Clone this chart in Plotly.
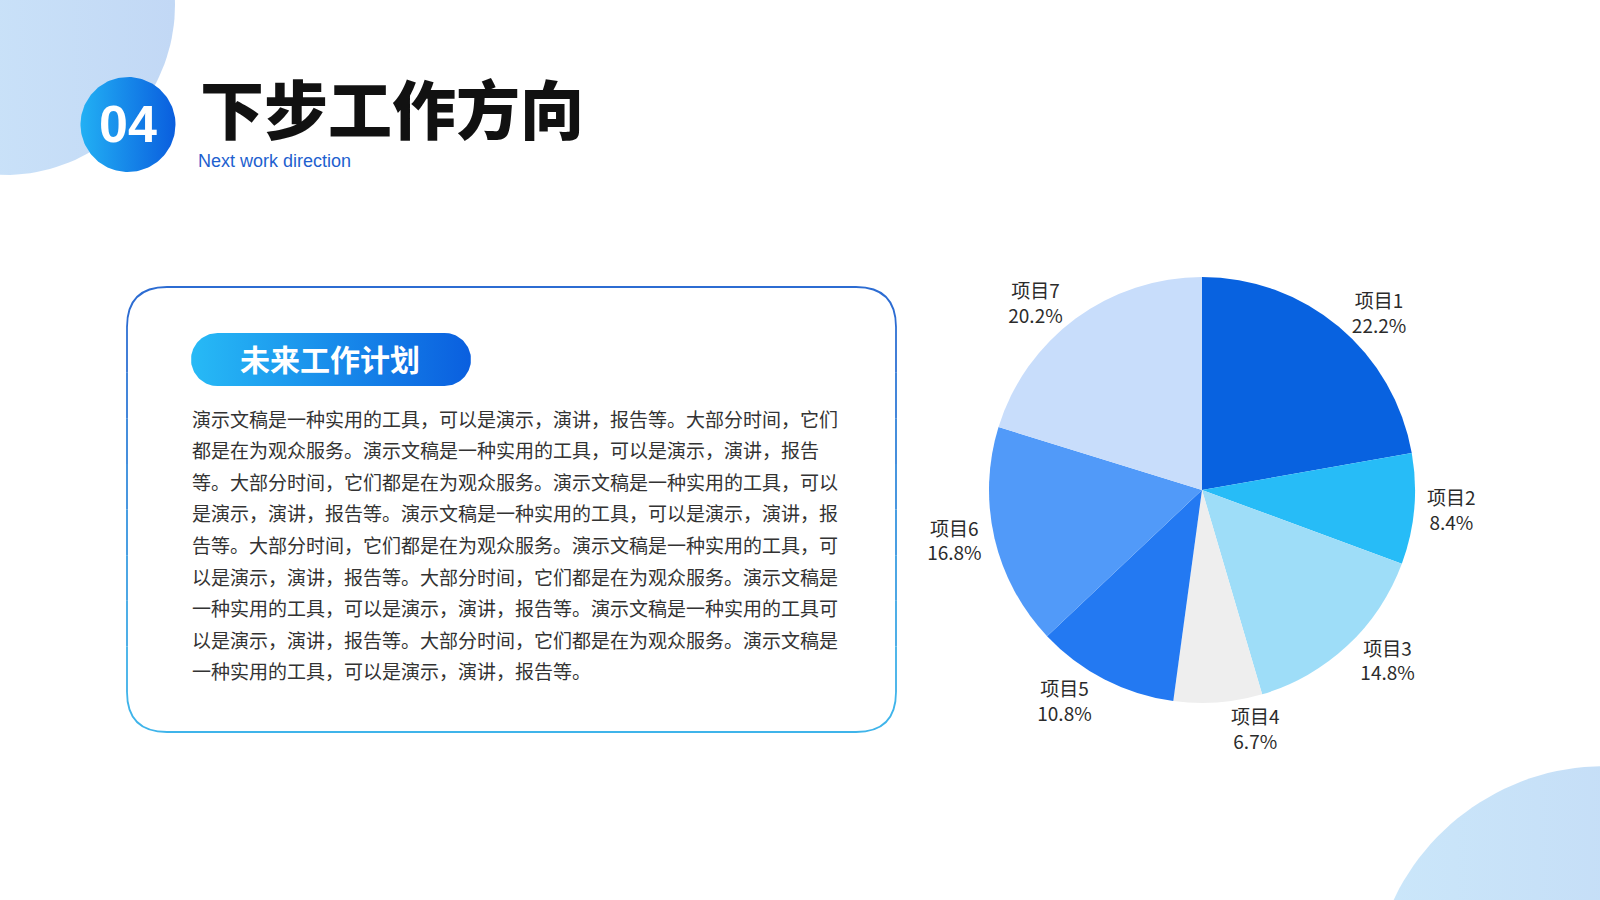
import numpy as np
import plotly.graph_objects as go

# pie data
labels = ["项目1", "项目2", "项目3", "项目4", "项目5", "项目6", "项目7"]
shares = [22.2, 8.4, 14.8, 6.7, 10.8, 16.8, 20.2]
slice_colors = ["#0862E0", "#27BCF7", "#9EDDF8", "#EEEEEE", "#2379F2", "#519AF9", "#C8DDFB"]

title_text = "下步工作方向"
subtitle_text = "Next work direction"
badge_text = "04"
pill_text = "未来工作计划"
para_lines = [
    "演示文稿是一种实用的工具，可以是演示，演讲，报告等。大部分时间，它们",
    "都是在为观众服务。演示文稿是一种实用的工具，可以是演示，演讲，报告",
    "等。大部分时间，它们都是在为观众服务。演示文稿是一种实用的工具，可以",
    "是演示，演讲，报告等。演示文稿是一种实用的工具，可以是演示，演讲，报",
    "告等。大部分时间，它们都是在为观众服务。演示文稿是一种实用的工具，可",
    "以是演示，演讲，报告等。大部分时间，它们都是在为观众服务。演示文稿是",
    "一种实用的工具，可以是演示，演讲，报告等。演示文稿是一种实用的工具可",
    "以是演示，演讲，报告等。大部分时间，它们都是在为观众服务。演示文稿是",
    "一种实用的工具，可以是演示，演讲，报告等。",
]

W, H = 1600, 900
CJK = "Noto Sans CJK SC"


def circle_pts(cx, cy, r, n=160):
    t = np.linspace(0, 2 * np.pi, n)
    return cx + r * np.cos(t), cy + r * np.sin(t)


def pill_pts(x0, x1, y0, y1, n=60):
    r = (y1 - y0) / 2
    cy = (y0 + y1) / 2
    a = np.linspace(np.pi / 2, 3 * np.pi / 2, n)
    lx = x0 + r + r * np.cos(a)
    ly = cy - r * np.sin(a)
    b = np.linspace(-np.pi / 2, np.pi / 2, n)
    rx = x1 - r + r * np.cos(b)
    ry = cy - r * np.sin(b)
    return np.r_[lx, rx, lx[:1]], np.r_[ly, ry, ly[:1]]


def grad_blob(xs, ys, c0, c1):
    return go.Scatter(x=xs, y=ys, mode="lines", line=dict(width=0), fill="toself",
                      fillgradient=dict(type="horizontal", colorscale=[[0, c0], [1, c1]]),
                      hoverinfo="skip", showlegend=False)


fig = go.Figure()

# background blobs
fig.add_trace(grad_blob(*circle_pts(5, 5, 170), "#CFE9FB", "#C2D8F5"))
fig.add_trace(grad_blob(*circle_pts(1605, 1000, 234), "#CBE7FA", "#C0D6F4"))
# badge + pill
fig.add_trace(grad_blob(*circle_pts(128, 124.5, 47.5), "#22B0F4", "#0A5EDE"))
fig.add_trace(grad_blob(*pill_pts(191, 471, 333, 386), "#27BAF6", "#0A5FDF"))

# pie
cx, cy, r = 1202, 490, 213
fig.add_trace(go.Pie(
    labels=labels, values=shares, sort=False, direction="clockwise", rotation=0,
    marker=dict(colors=slice_colors, line=dict(width=0)),
    textposition="outside", texttemplate="%{label}<br>%{value:.1f}%",
    textfont=dict(family=CJK, size=19, color="#2B2B2B"),
    domain=dict(x=[(cx - r) / W, (cx + r) / W], y=[(H - cy - r) / H, (H - cy + r) / H]),
    hoverinfo="label+percent", showlegend=False,
))

# rounded frame, colour fades from blue (top) to cyan (bottom)
x0, x1, y0, y1, rr = 127, 896, 287, 732, 40
top_c, bot_c = np.array([0x2C, 0x6C, 0xD2]), np.array([0x3F, 0xB4, 0xEA])


def mix(f):
    c = top_c + (bot_c - top_c) * f
    return "rgb(%d,%d,%d)" % tuple(c)


shapes = [
    dict(type="path", xref="x", yref="y", line=dict(color=mix(0), width=1.8),
         path=f"M{x0},{y0+rr} Q{x0},{y0} {x0+rr},{y0} L{x1-rr},{y0} Q{x1},{y0} {x1},{y0+rr}"),
    dict(type="path", xref="x", yref="y", line=dict(color=mix(1), width=1.8),
         path=f"M{x0},{y1-rr} Q{x0},{y1} {x0+rr},{y1} L{x1-rr},{y1} Q{x1},{y1} {x1},{y1-rr}"),
]
edges = np.linspace(y0 + rr, y1 - rr, 9)
for i in range(8):
    col = mix((i + 0.5) / 8)
    for xx in (x0, x1):
        shapes.append(dict(type="line", xref="x", yref="y", x0=xx, x1=xx,
                           y0=edges[i], y1=edges[i + 1], line=dict(color=col, width=1.8)))

annotations = [
    dict(x=128, y=124, text=badge_text, showarrow=False, xanchor="center", yanchor="middle",
         font=dict(family="Liberation Sans", size=52, color="white", weight="bold")),
    dict(x=198, y=106, text=title_text, showarrow=False, xanchor="left", yanchor="middle",
         font=dict(family=CJK, size=64, color="#111111", weight=900)),
    dict(x=196, y=161, text=subtitle_text, showarrow=False, xanchor="left", yanchor="middle",
         font=dict(family="Liberation Sans", size=18, color="#1E5FCF")),
    dict(x=330, y=358, text=pill_text, showarrow=False, xanchor="center", yanchor="middle",
         font=dict(family=CJK, size=30, color="white", weight="bold")),
]
for i, line in enumerate(para_lines):
    annotations.append(dict(x=190, y=418 + i * 31.6, text=line, showarrow=False,
                            xanchor="left", yanchor="middle",
                            font=dict(family=CJK, size=19, color="#333333")))

fig.update_layout(
    width=W, height=H, margin=dict(l=0, r=0, t=0, b=0),
    paper_bgcolor="white", plot_bgcolor="white", showlegend=False,
    xaxis=dict(range=[0, W], visible=False, fixedrange=True),
    yaxis=dict(range=[H, 0], visible=False, fixedrange=True),
    shapes=shapes, annotations=annotations,
)

# drop the default page margin so the figure sits flush with the window
fig.write_html("out.html", config={"displayModeBar": False},
               post_script="document.body.style.margin='0';")
